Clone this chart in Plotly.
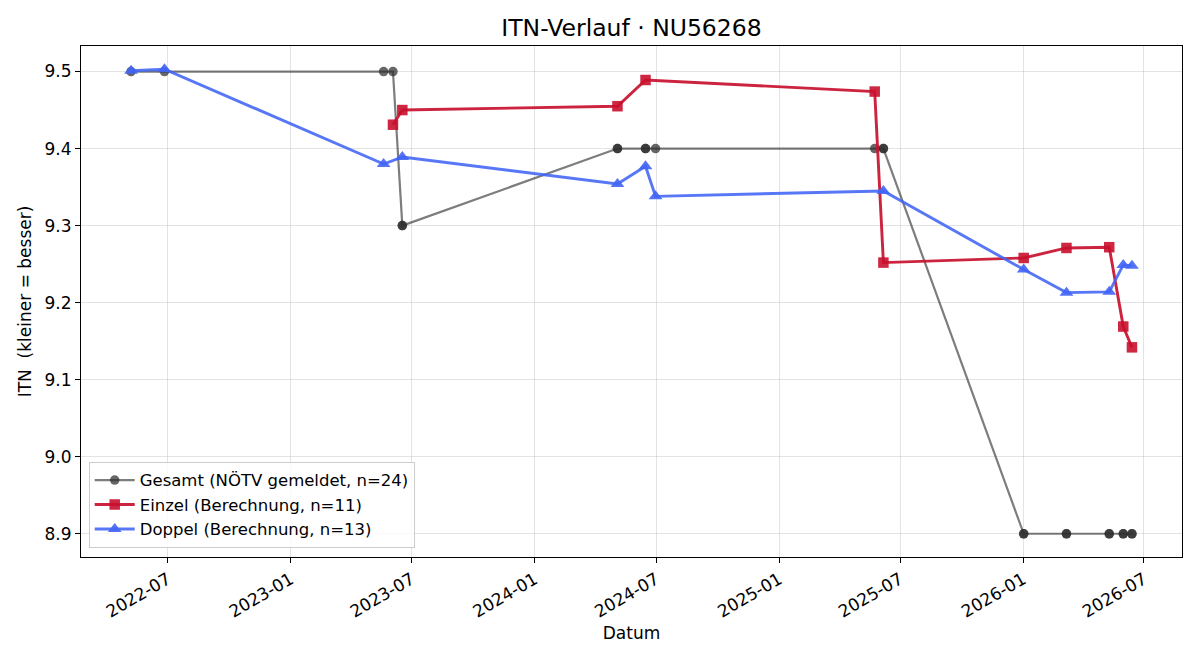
import plotly.graph_objects as go
import pandas as pd

# ---- data ----
gesamt_dates = ["2022-05-07", "2022-06-26", "2023-05-20", "2023-06-03",
                "2023-06-17", "2023-06-17", "2024-05-04", "2024-05-04",
                "2024-06-15", "2024-06-15", "2024-06-30", "2025-05-24",
                "2025-06-06", "2025-06-06", "2026-01-02", "2026-01-02",
                "2026-03-07", "2026-03-07", "2026-05-10", "2026-05-10",
                "2026-05-31", "2026-05-31", "2026-06-13", "2026-06-13"]
gesamt_vals = [9.5, 9.5, 9.5, 9.5,
               9.3, 9.3, 9.4, 9.4,
               9.4, 9.4, 9.4, 9.4,
               9.4, 9.4, 8.9, 8.9,
               8.9, 8.9, 8.9, 8.9,
               8.9, 8.9, 8.9, 8.9]

einzel_dates = ["2023-06-03", "2023-06-17", "2024-05-04", "2024-06-15",
                "2025-05-24", "2025-06-06", "2026-01-02", "2026-03-07",
                "2026-05-10", "2026-05-31", "2026-06-13"]
einzel_vals = [9.431, 9.450, 9.455, 9.489, 9.474, 9.252, 9.258, 9.271,
               9.272, 9.169, 9.142]

doppel_dates = ["2022-05-07", "2022-06-26", "2023-05-20", "2023-06-17",
                "2024-05-04", "2024-06-15", "2024-06-30", "2025-06-06",
                "2026-01-02", "2026-03-07", "2026-05-10", "2026-05-31",
                "2026-06-13"]
doppel_vals = [9.501, 9.503, 9.380, 9.389, 9.354, 9.377, 9.338, 9.345,
               9.243, 9.213, 9.214, 9.249, 9.248]

title = "ITN-Verlauf · NU56268"
x_label = "Datum"
y_label = "ITN\u00a0 (kleiner = besser)"
y_ticks = [8.9, 9.0, 9.1, 9.2, 9.3, 9.4, 9.5]

# ---- figure ----
font = "DejaVu Sans"
fig = go.Figure()

fig.add_trace(go.Scatter(
    x=pd.to_datetime(gesamt_dates), y=gesamt_vals, mode="lines+markers",
    name=f"Gesamt (NÖTV gemeldet, n={len(gesamt_vals)})",
    line=dict(color="rgba(45,45,45,0.62)", width=2.2),
    marker=dict(symbol="circle", size=9.5, color="rgba(45,45,45,0.72)", line=dict(width=0)),
))
fig.add_trace(go.Scatter(
    x=pd.to_datetime(einzel_dates), y=einzel_vals, mode="lines+markers",
    name=f"Einzel (Berechnung, n={len(einzel_vals)})",
    line=dict(color="rgba(200,16,46,0.92)", width=2.9),
    marker=dict(symbol="square", size=10.5, color="rgba(200,16,46,0.9)", line=dict(width=0)),
))
fig.add_trace(go.Scatter(
    x=pd.to_datetime(doppel_dates), y=doppel_vals, mode="lines+markers",
    name=f"Doppel (Berechnung, n={len(doppel_vals)})",
    line=dict(color="rgba(65,100,245,0.88)", width=2.9),
    marker=dict(symbol="triangle-up", size=12, color="rgba(65,100,245,0.9)", line=dict(width=0)),
))

all_dates = pd.to_datetime(gesamt_dates + einzel_dates + doppel_dates)
dmin, dmax = all_dates.min(), all_dates.max()
pad = (dmax - dmin) * 0.05
all_vals = gesamt_vals + einzel_vals + doppel_vals
vmin, vmax = min(all_vals), max(all_vals)
vpad = (vmax - vmin) * 0.05

fig.update_layout(
    width=1200, height=660,
    paper_bgcolor="white", plot_bgcolor="white",
    margin=dict(l=81, r=18, t=46, b=103),
    font=dict(family=font, size=17, color="black"),
    title=dict(text=title, xref="paper", x=0.5, xanchor="center",
               yref="container", y=0.958, yanchor="middle",
               font=dict(size=23.5, family=font, color="black")),
    showlegend=True,
    legend=dict(x=0.007, y=0.018, xanchor="left", yanchor="bottom",
                bgcolor="rgba(255,255,255,0.8)", bordercolor="#cccccc", borderwidth=1,
                font=dict(size=16.5, family=font), tracegroupgap=0, itemwidth=40),
)
fig.update_xaxes(
    range=[dmin - pad, dmax + pad],
    tickformat="%Y-%m", dtick="M6", tick0="2022-01-01",
    tickangle=-30, ticks="outside", ticklen=5, tickcolor="black",
    showline=True, linecolor="black", linewidth=1.2, mirror=True,
    showgrid=True, gridcolor="rgba(176,176,176,0.35)", gridwidth=1,
    zeroline=False,
    tickfont=dict(size=17, family=font),
    title=dict(text=x_label, font=dict(size=17, family=font), standoff=6),
)
fig.update_yaxes(
    range=[vmin - vpad, vmax + vpad],
    tickvals=y_ticks, ticktext=[f"{v:.1f}" for v in y_ticks],
    ticks="outside", ticklen=5, tickcolor="black",
    showline=True, linecolor="black", linewidth=1.2, mirror=True,
    showgrid=True, gridcolor="rgba(176,176,176,0.35)", gridwidth=1,
    zeroline=False,
    tickfont=dict(size=17, family=font),
    title=dict(text=y_label, font=dict(size=17, family=font), standoff=8),
)

fig.write_html("out.html")
